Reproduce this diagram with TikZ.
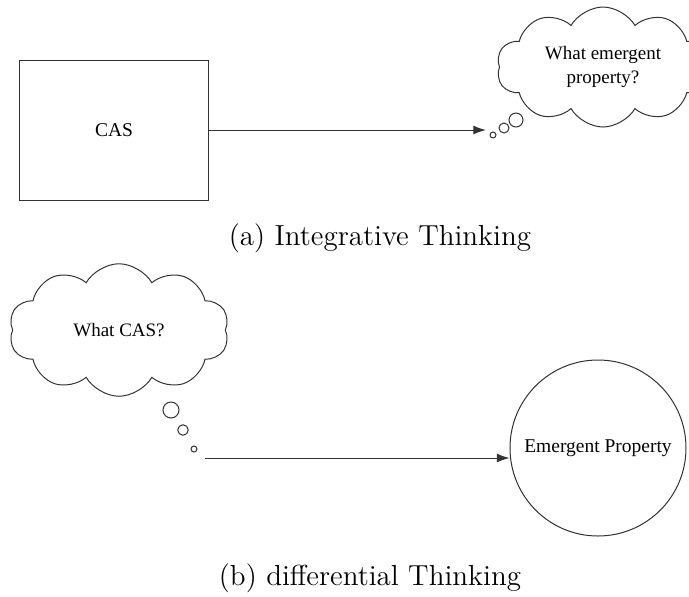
\documentclass[tikz,border=0pt]{standalone}
\usepackage{fontspec}
\newfontfamily\diagfont{Liberation Serif}
\usepackage{tikz}
\usetikzlibrary{arrows.meta, shapes.symbols}

\tikzset{
  thought/.style={draw=black!80, thin, cloud, cloud puffs=10, cloud puff arc=120, cloud ignores aspect, align=center, font=\diagfont\fontsize{7.6}{9.5}\selectfont},
  bubble/.style={draw=black!80, thin, circle, inner sep=0pt},
  link/.style={-{Latex[length=5pt,width=3.5pt]}, black!80, thin},
  capt/.style={font=\fontsize{11.6}{14}\selectfont}
}

\begin{document}
\begin{tikzpicture}[x=0.4pt, y=-0.4pt]
\useasboundingbox (0,0) rectangle (689,596);
% (a) integrative
\node[draw=black!80, thin, minimum width=75.2pt, minimum height=56pt, font=\diagfont\fontsize{7.8}{9.5}\selectfont] (cas) at (114,130) {CAS};
\node[thought, minimum width=85pt, minimum height=48pt] (qprop) at (603,67) {What emergent\\property?};
\node[bubble, minimum size=5.6pt] (ba1) at (516,120) {};
\node[bubble, minimum size=4pt] (ba2) at (504,128) {};
\node[bubble, minimum size=2.4pt] (ba3) at (493,135) {};
\coordinate (tipa) at (486,130);
\draw[link] (cas.east) -- (tipa);
\node[capt] (capa) at (380,238) {(a) Integrative Thinking};
% (b) differential
\node[thought, minimum width=88pt, minimum height=53pt] (qcas) at (119,330) {What CAS?};
\node[bubble, minimum size=6.4pt] (bb1) at (171,410) {};
\node[bubble, minimum size=4.2pt] (bb2) at (183,430) {};
\node[bubble, minimum size=2.4pt] (bb3) at (194,449) {};
\coordinate (startb) at (205,458);
\node[draw=black!80, thin, circle, minimum size=70.4pt, inner sep=0pt, font=\diagfont\fontsize{7.8}{9.5}\selectfont] (emerg) at (598,448) {Emergent Property};
\draw[link] (startb) -- (startb -| emerg.west);
\node[capt] (capb) at (370,578) {(b) differential Thinking};
\end{tikzpicture}
\end{document}
